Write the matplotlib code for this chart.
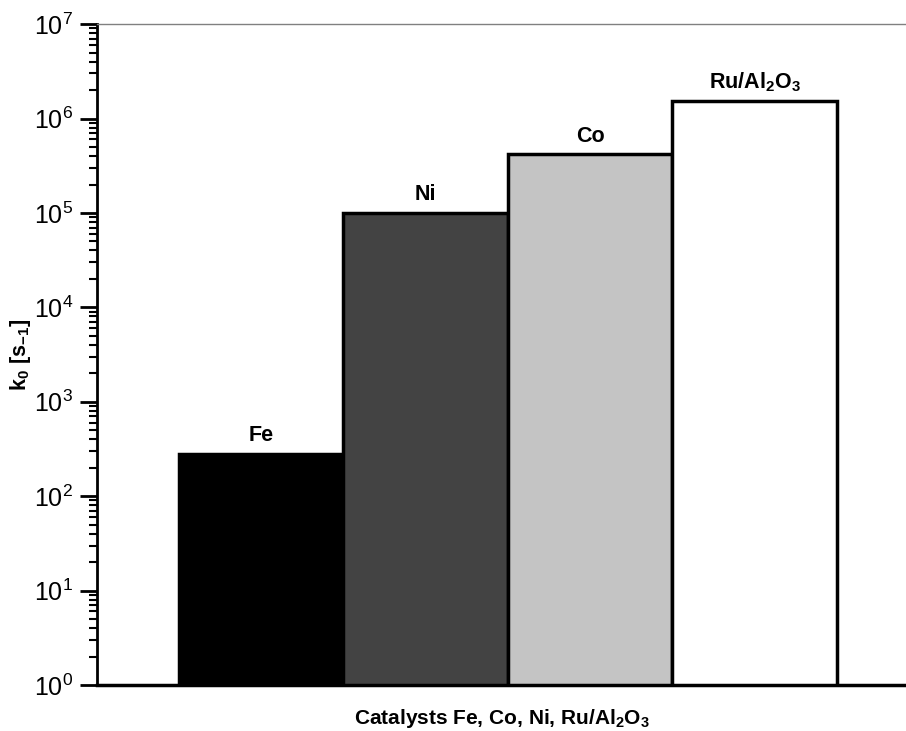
import matplotlib
matplotlib.use("Agg")
import matplotlib.pyplot as plt
from matplotlib.ticker import LogLocator, NullFormatter
import numpy as np

plt.rcParams['font.family'] = ['Liberation Sans', 'DejaVu Sans']
plt.rcParams['mathtext.fontset'] = 'custom'
plt.rcParams['mathtext.rm'] = 'Liberation Sans'
plt.rcParams['mathtext.it'] = 'Liberation Sans:italic'
plt.rcParams['mathtext.bf'] = 'Liberation Sans:bold'

catalysts = ['Fe', 'Ni', 'Co', r'Ru/Al$_\mathbf{2}$O$_\mathbf{3}$']
k0 = [280, 1.0e5, 4.2e5, 1.52e6]
colors = ['#000000', '#434343', '#c4c4c4', '#ffffff']

fig = plt.figure(figsize=(9.06, 7.31), dpi=100)
ax = fig.add_axes([0.107, 0.063, 0.893, 0.904])

x = np.arange(len(catalysts))
ax.bar(x, k0, width=1.0, bottom=1, color=colors, edgecolor='black', linewidth=2.5, zorder=3)
for xi, v, name in zip(x, k0, catalysts):
    ax.text(xi, v * 1.2, name, ha='center', va='bottom', fontsize=15.5, fontweight='bold')

ax.set_yscale('log')
ax.set_ylim(1, 1e7)
ax.set_xlim(-0.998, 3.92)
ax.yaxis.set_major_locator(LogLocator(base=10, numticks=10))
ax.yaxis.set_minor_locator(LogLocator(base=10, subs=np.arange(2, 10), numticks=20))
ax.yaxis.set_minor_formatter(NullFormatter())
ax.tick_params(axis='y', which='major', direction='out', length=12, width=2, labelsize=18, pad=5)
ax.tick_params(axis='y', which='minor', direction='out', length=6, width=1.5)
ax.set_xticks([])

ax.spines['left'].set_linewidth(2)
ax.spines['bottom'].set_linewidth(2.5)
ax.spines['top'].set_color('#808080')
ax.spines['top'].set_linewidth(1)
ax.spines['right'].set_visible(False)

ax.set_ylabel(r'k$_\mathbf{0}$ [s$_\mathbf{-1}$]', fontsize=15.5, fontweight='bold')
ax.yaxis.set_label_coords(-0.079, 0.5)
ax.set_xlabel(r'Catalysts Fe, Co, Ni, Ru/Al$_\mathbf{2}$O$_\mathbf{3}$', fontsize=15, fontweight='bold', labelpad=16)

fig.savefig('out.png', dpi=100)
